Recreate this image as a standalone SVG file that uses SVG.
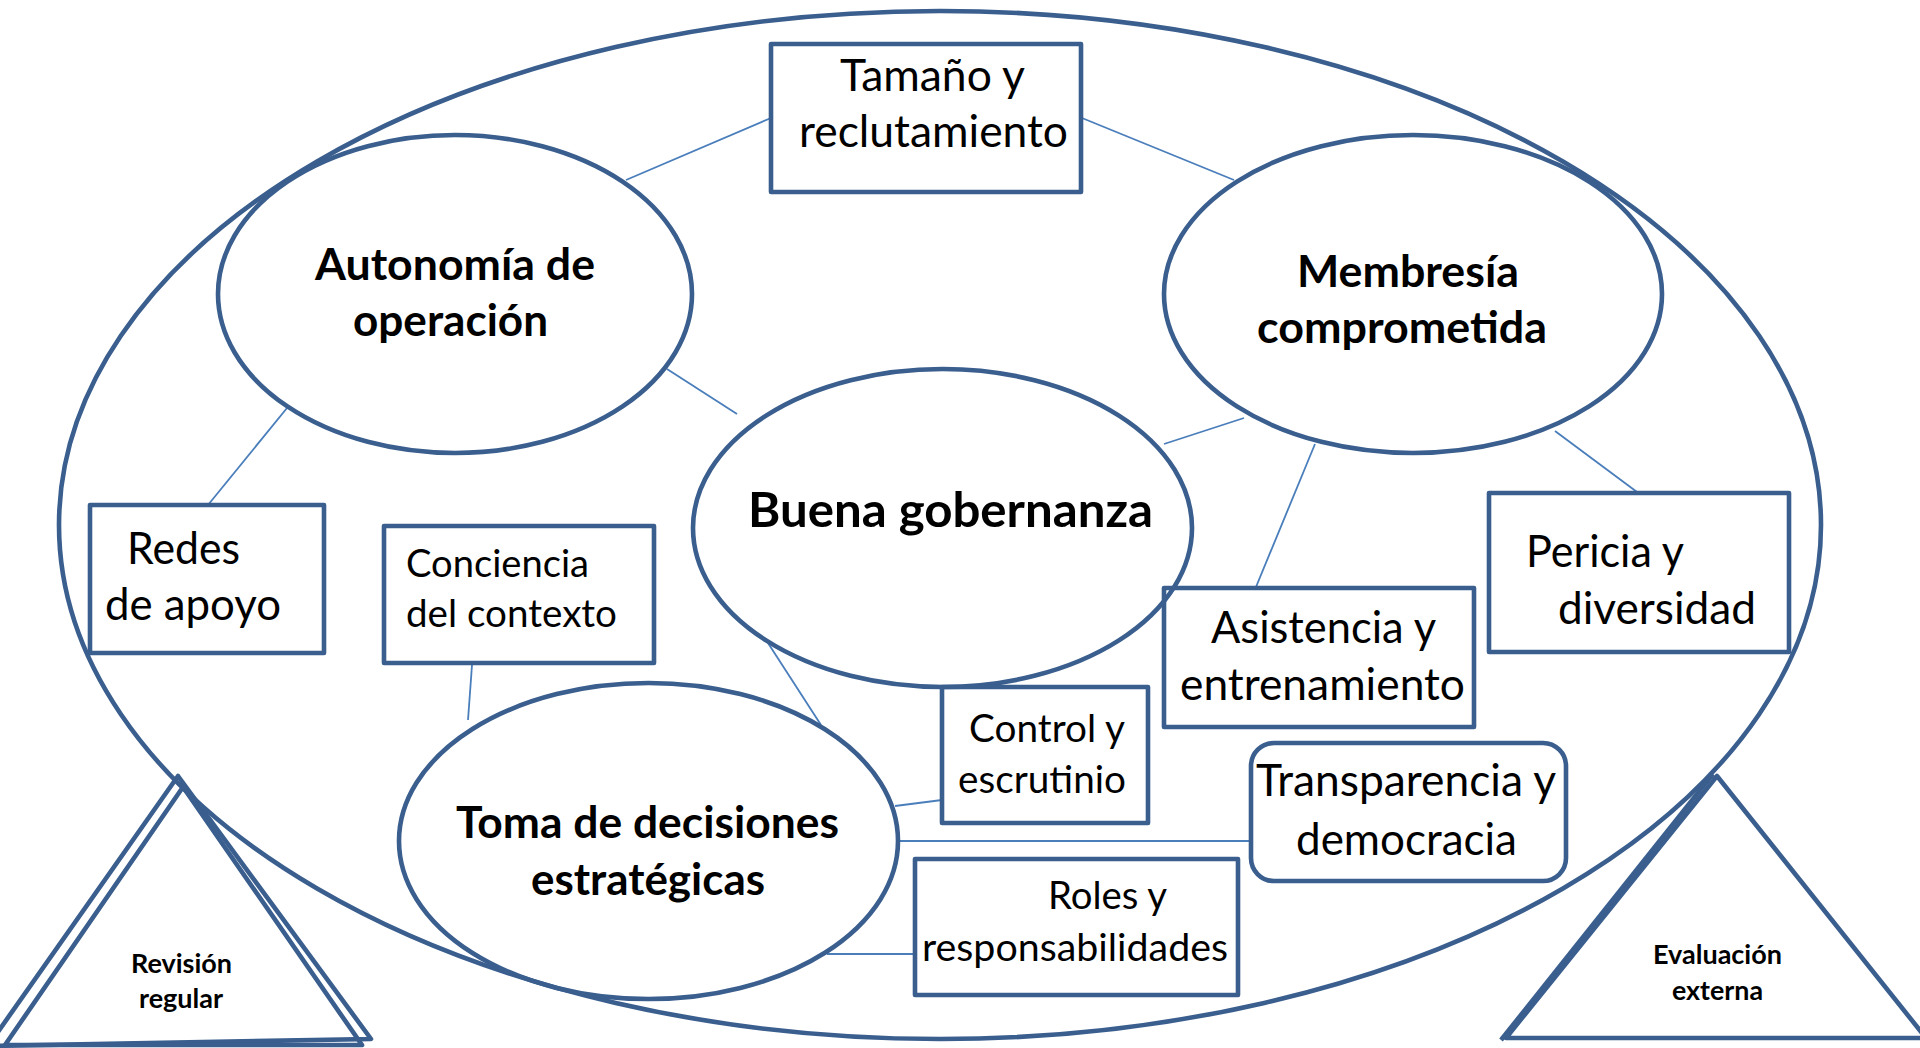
<svg xmlns="http://www.w3.org/2000/svg" width="1920" height="1048" viewBox="0 0 1920 1048">
<style>
.shape{fill:none;stroke:#3A5E8E;stroke-width:4.6;stroke-linejoin:round}
.conn{fill:none;stroke:#4A7EBB;stroke-width:1.8}
.t{font-family:Lato,"Liberation Sans",sans-serif;fill:#000}
.b{font-weight:bold}
.s43{font-size:44px}
.s47{font-size:48.5px}
.s39{font-size:39.5px}
.s26{font-size:27px}
</style>
<rect x="0" y="0" width="1920" height="1048" fill="#fff"/>
<g id="connectors">
<line class="conn" x1="626" y1="180" x2="771" y2="118"/>
<line class="conn" x1="1082" y1="118" x2="1234" y2="180"/>
<line class="conn" x1="667" y1="369" x2="737" y2="414"/>
<line class="conn" x1="1244" y1="418" x2="1164" y2="444"/>
<line class="conn" x1="287" y1="408" x2="208" y2="505"/>
<line class="conn" x1="1315" y1="444" x2="1256" y2="587"/>
<line class="conn" x1="1555" y1="431" x2="1637" y2="492"/>
<line class="conn" x1="472" y1="665" x2="468" y2="720"/>
<line class="conn" x1="768" y1="643" x2="821" y2="725"/>
<line class="conn" x1="895" y1="806" x2="942" y2="800"/>
<line class="conn" x1="898" y1="841" x2="1249" y2="841"/>
<line class="conn" x1="827" y1="954" x2="913" y2="954"/>
</g>
<g id="outer">
<ellipse class="shape" cx="940" cy="525" rx="881" ry="514"/>
</g>
<g id="tamano">
<rect class="shape" x="771" y="44" width="310" height="148"/>
<text class="t s43" x="840" y="91" textLength="185" lengthAdjust="spacingAndGlyphs">Tamaño y</text>
<text class="t s43" x="799" y="147" textLength="269" lengthAdjust="spacingAndGlyphs">reclutamiento</text>
</g>
<g id="autonomia">
<ellipse class="shape" cx="455" cy="294" rx="237" ry="159"/>
<text class="t b s43" x="315" y="280" textLength="280" lengthAdjust="spacingAndGlyphs">Autonomía de</text>
<text class="t b s43" x="353" y="336" textLength="195" lengthAdjust="spacingAndGlyphs">operación</text>
</g>
<g id="membresia">
<ellipse class="shape" cx="1413" cy="294" rx="249" ry="159"/>
<text class="t b s43" x="1297" y="287" textLength="222" lengthAdjust="spacingAndGlyphs">Membresía</text>
<text class="t b s43" x="1257" y="343" textLength="290" lengthAdjust="spacingAndGlyphs">comprometida</text>
</g>
<g id="buena">
<ellipse class="shape" cx="942.5" cy="528" rx="249.5" ry="159"/>
<text class="t b s47" x="748" y="527" textLength="405" lengthAdjust="spacingAndGlyphs">Buena gobernanza</text>
</g>
<g id="redes">
<rect class="shape" x="90" y="505" width="234" height="148"/>
<text class="t s43" x="127" y="564" textLength="113" lengthAdjust="spacingAndGlyphs">Redes</text>
<text class="t s43" x="105" y="620" textLength="176" lengthAdjust="spacingAndGlyphs">de apoyo</text>
</g>
<g id="conciencia">
<rect class="shape" x="384" y="526" width="270" height="137"/>
<text class="t s39" x="406" y="577" textLength="183" lengthAdjust="spacingAndGlyphs">Conciencia</text>
<text class="t s39" x="406" y="627" textLength="211" lengthAdjust="spacingAndGlyphs">del contexto</text>
</g>
<g id="pericia">
<rect class="shape" x="1489" y="493" width="300" height="159"/>
<text class="t s43" x="1526" y="567" textLength="158" lengthAdjust="spacingAndGlyphs">Pericia y</text>
<text class="t s43" x="1558" y="624" textLength="198" lengthAdjust="spacingAndGlyphs">diversidad</text>
</g>
<g id="asistencia">
<rect class="shape" x="1164" y="588" width="310" height="139"/>
<text class="t s43" x="1211" y="643" textLength="225" lengthAdjust="spacingAndGlyphs">Asistencia y</text>
<text class="t s43" x="1180" y="700" textLength="285" lengthAdjust="spacingAndGlyphs">entrenamiento</text>
</g>
<g id="control">
<rect class="shape" x="942" y="687" width="206" height="136"/>
<text class="t s39" x="969" y="742" textLength="156" lengthAdjust="spacingAndGlyphs">Control y</text>
<text class="t s39" x="958" y="793" textLength="168" lengthAdjust="spacingAndGlyphs">escrutinio</text>
</g>
<g id="transparencia">
<rect class="shape" x="1251" y="743" width="315" height="138" rx="23" ry="23"/>
<text class="t s43" x="1256" y="796" textLength="300" lengthAdjust="spacingAndGlyphs">Transparencia y</text>
<text class="t s43" x="1296" y="855" textLength="221" lengthAdjust="spacingAndGlyphs">democracia</text>
</g>
<g id="toma">
<ellipse class="shape" cx="648.5" cy="841" rx="249.5" ry="158"/>
<text class="t b s43" x="456" y="838" textLength="383" lengthAdjust="spacingAndGlyphs">Toma de decisiones</text>
<text class="t b s43" x="531" y="895" textLength="234" lengthAdjust="spacingAndGlyphs">estratégicas</text>
</g>
<g id="roles">
<rect class="shape" x="915" y="859" width="323" height="136"/>
<text class="t s39" x="1048" y="909" textLength="119" lengthAdjust="spacingAndGlyphs">Roles y</text>
<text class="t s39" x="922" y="961" textLength="306" lengthAdjust="spacingAndGlyphs">responsabilidades</text>
</g>
<g id="revision">
<polygon class="shape" points="178,776 371,1039 -12,1046"/>
<polygon class="shape" points="183,787 362,1045 5,1045"/>
<text class="t b s26" x="131" y="973" textLength="101" lengthAdjust="spacingAndGlyphs">Revisión</text>
<text class="t b s26" x="139" y="1008" textLength="84" lengthAdjust="spacingAndGlyphs">regular</text>
</g>
<g id="evaluacion">
<polygon class="shape" points="1717,776 1926,1038 1506,1038"/>
<line class="shape" x1="1713" y1="774" x2="1501" y2="1040"/>
<text class="t b s26" x="1653" y="964" textLength="129" lengthAdjust="spacingAndGlyphs">Evaluación</text>
<text class="t b s26" x="1672" y="1000" textLength="91" lengthAdjust="spacingAndGlyphs">externa</text>
</g>
</svg>
